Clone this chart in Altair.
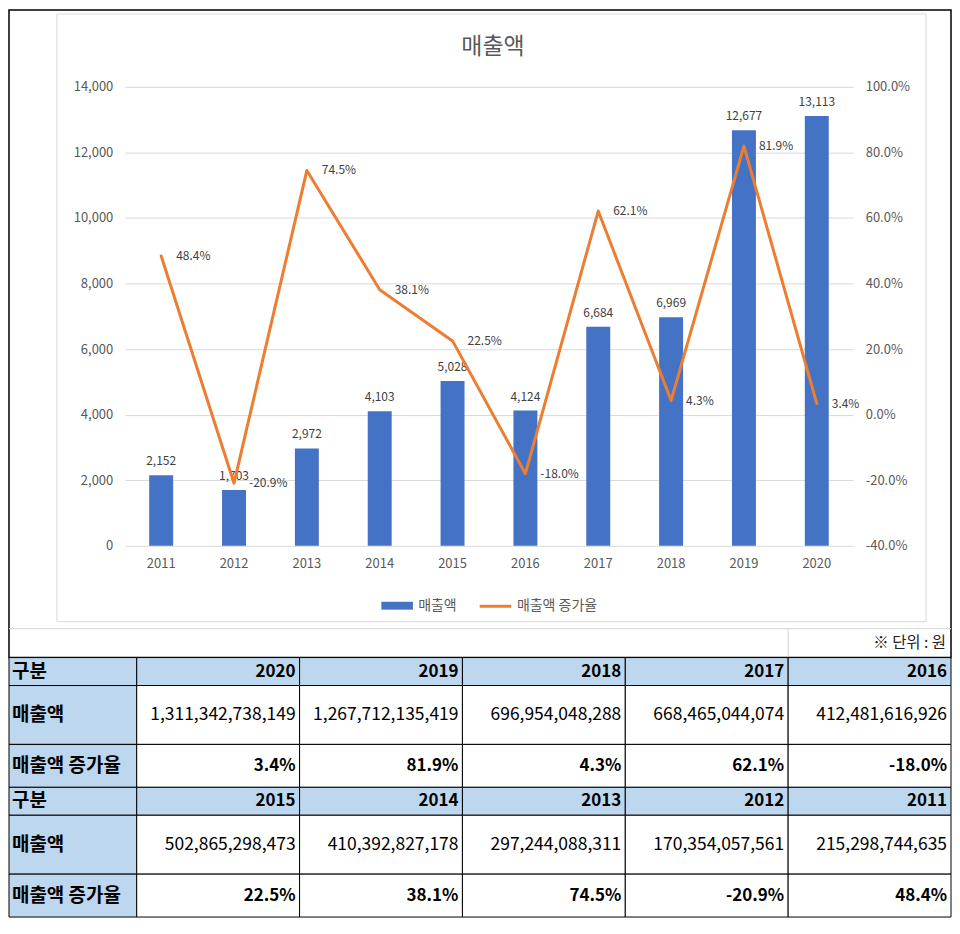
import altair as alt
import pandas as pd

FONT = "Noto Sans CJK KR"

# ---------------- data ----------------
years = [2011, 2012, 2013, 2014, 2015, 2016, 2017, 2018, 2019, 2020]
sales_won = [215298744635, 170354057561, 297244088311, 410392827178, 502865298473,
             412481616926, 668465044074, 696954048288, 1267712135419, 1311342738149]
growth = [0.484, -0.209, 0.745, 0.381, 0.225, -0.180, 0.621, 0.043, 0.819, 0.034]
left_ticks = [0, 2000, 4000, 6000, 8000, 10000, 12000, 14000]
right_ticks = [-0.4, -0.2, 0.0, 0.2, 0.4, 0.6, 0.8, 1.0]

title_text = "매출액"
bar_name = "매출액"
line_name = "매출액 증가율"
row_labels = ["구분", "매출액", "매출액 증가율"]
unit_text = "※ 단위 : 원"

# ---------------- layout (pixels, relative to plot origin) ----------------
PW, PH = 730, 460
col_w = [128] + [163.2] * 5
row_h = [28, 59, 43, 28, 59, 43]
TX0, TY0 = -116, 572  # table top-left relative to plot origin

def pct(v):
    return f"{v * 100:.1f}%"

df = pd.DataFrame({
    "year": [str(y) for y in years],
    "sales": [s // 10**8 for s in sales_won],
    "growth": growth,
})
df["sales_lbl"] = [f"{v:,}" for v in df["sales"]]
df["growth_lbl"] = [pct(v) for v in growth]
df["bar_series"] = bar_name
df["line_series"] = line_name

one = pd.DataFrame({"a": [1]})

band = alt.Scale(paddingInner=0, paddingOuter=0)
x_axis = alt.X("year:O", scale=band,
               axis=alt.Axis(title=None, labelAngle=0, domain=False, ticks=False,
                             labelPadding=12, labelFontSize=13, labelColor="#595959",
                             labelFont=FONT))
x_plain = alt.X("year:O", scale=band, axis=None)

bar_scale = alt.Scale(domain=[0, 14000], nice=False)
line_scale = alt.Scale(domain=[-0.4, 1.0], nice=False, zero=False)

y_bar = alt.Y("sales:Q", scale=bar_scale,
              axis=alt.Axis(values=left_ticks, title=None, domain=False,
                            ticks=False, labelPadding=12, grid=True, gridColor="#D9D9D9",
                            labelFontSize=13, labelColor="#595959", labelFont=FONT,
                            labelFlush=False, labelOverlap=False,
                            labelExpr="format(datum.value, ',')"))

bars = alt.Chart(df).mark_bar(size=24).encode(
    x=x_axis,
    y=y_bar,
    color=alt.Color("bar_series:N", scale=alt.Scale(domain=[bar_name], range=["#4472C4"]),
                    legend=alt.Legend(title=None, orient="none", legendX=256, legendY=503,
                                      direction="horizontal",
                                      symbolType="M-1,-0.25H1V0.25H-1Z", symbolSize=1000,
                                      labelFont=FONT, labelFontSize=14, labelColor="#595959",
                                      labelOffset=4)),
)
bar_text = alt.Chart(df).mark_text(baseline="bottom", dy=-7, fontSize=12, color="#404040",
                                   font=FONT).encode(
    x=x_plain,
    y=alt.Y("sales:Q", scale=bar_scale, axis=None),
    text="sales_lbl:N")

y_line = alt.Y("growth:Q", scale=line_scale,
               axis=alt.Axis(orient="right", values=right_ticks, title=None, domain=False,
                             ticks=False, grid=False, labelPadding=12, labelFontSize=13,
                             labelColor="#595959", labelFont=FONT, labelFlush=False,
                             labelOverlap=False,
                             labelExpr="replace(format(datum.value, '.1%'), '\u2212', '-')"))

line = alt.Chart(df).mark_line(strokeWidth=3, strokeJoin="round", strokeCap="round").encode(
    x=x_plain,
    y=y_line,
    stroke=alt.Stroke("line_series:N", scale=alt.Scale(domain=[line_name], range=["#ED7D31"]),
                      legend=alt.Legend(title=None, orient="none", legendX=354, legendY=503,
                                        direction="horizontal",
                                        symbolType="stroke", symbolSize=1000,
                                        symbolStrokeWidth=3,
                                        labelFont=FONT, labelFontSize=14,
                                        labelColor="#595959", labelOffset=4)),
)
line_text = alt.Chart(df).mark_text(align="left", baseline="middle", dx=15, fontSize=12,
                                    color="#404040", font=FONT).encode(
    x=x_plain,
    y=alt.Y("growth:Q", scale=line_scale, axis=None),
    text="growth_lbl:N")

# decorative frame elements
outer = alt.Chart(one).mark_rect(fillOpacity=0, stroke="#000000", strokeWidth=1.5).encode(
    x=alt.value(-116), x2=alt.value(828), y=alt.value(-77), y2=alt.value(TY0))
frame = alt.Chart(one).mark_rect(fillOpacity=0, stroke="#D9D9D9", strokeWidth=1).encode(
    x=alt.value(-68), x2=alt.value(803), y=alt.value(-73), y2=alt.value(536))
hline = alt.Chart(one).mark_rule(color="#D4D4D4", strokeWidth=1).encode(
    x=alt.value(-116), x2=alt.value(828), y=alt.value(543))
vline = alt.Chart(one).mark_rule(color="#D4D4D4", strokeWidth=1).encode(
    x=alt.value(664.8), y=alt.value(543), y2=alt.value(TY0))
unit = alt.Chart(one).mark_text(align="right", baseline="middle", fontSize=15.5, font=FONT,
                                color="#222222").encode(
    x=alt.value(823), y=alt.value(557), text=alt.value(unit_text))
title = alt.Chart(one).mark_text(align="center", baseline="middle", fontSize=23, font=FONT,
                                 color="#595959").encode(
    x=alt.value(PW / 2 + 4), y=alt.value(-40), text=alt.value(title_text))

# ---------------- table ----------------
blocks = [years[::-1][:5], years[::-1][5:]]
ymap = {y: i for i, y in enumerate(years)}
cells = []
xs = [sum(col_w[:i]) for i in range(len(col_w) + 1)]
ys = [sum(row_h[:i]) for i in range(len(row_h) + 1)]
for b, blk in enumerate(blocks):
    for r in range(3):
        ri = b * 3 + r
        for c in range(6):
            if c == 0:
                txt, kind = row_labels[r], "label"
            else:
                yr = blk[c - 1]
                i = ymap[yr]
                if r == 0:
                    txt, kind = str(yr), "bold"
                elif r == 1:
                    txt, kind = f"{sales_won[i]:,}", "num"
                else:
                    txt, kind = pct(growth[i]), "bold"
            cells.append({
                "x0": xs[c], "x1": xs[c + 1], "y0": ys[ri], "y1": ys[ri + 1],
                "yc": (ys[ri] + ys[ri + 1]) / 2, "text": txt, "kind": kind,
                "blue": 1 if (c == 0 or r == 0) else 0,
            })
tdf = pd.DataFrame(cells)
TW, TH = xs[-1], ys[-1]
xs_scale = alt.Scale(domain=[0, TW], range=[TX0, TX0 + TW], nice=False, zero=False)
ys_scale = alt.Scale(domain=[0, TH], range=[TY0, TY0 + TH], nice=False, zero=False)

tbase = alt.Chart(tdf)
rects = tbase.mark_rect(stroke="#000000", strokeWidth=1).encode(
    x=alt.X("x0:Q", scale=xs_scale, axis=None), x2="x1:Q",
    y=alt.Y("y0:Q", scale=ys_scale, axis=None), y2="y1:Q",
    fill=alt.condition("datum.blue == 1", alt.value("#BDD7EE"), alt.value("#FFFFFF")),
)
t_label = tbase.transform_filter("datum.kind == 'label'").mark_text(
    align="left", baseline="middle", dx=3, fontSize=19, fontWeight="bold", font=FONT,
    color="#000000").encode(
    x=alt.X("x0:Q", scale=xs_scale, axis=None),
    y=alt.Y("yc:Q", scale=ys_scale, axis=None), text="text:N")
t_bold = tbase.transform_filter("datum.kind == 'bold'").mark_text(
    align="right", baseline="middle", dx=-4, fontSize=17, fontWeight="bold", font=FONT,
    color="#000000").encode(
    x=alt.X("x1:Q", scale=xs_scale, axis=None),
    y=alt.Y("yc:Q", scale=ys_scale, axis=None), text="text:N")
t_num = tbase.transform_filter("datum.kind == 'num'").mark_text(
    align="right", baseline="middle", dx=-4, fontSize=17.5, font=FONT,
    color="#000000").encode(
    x=alt.X("x1:Q", scale=xs_scale, axis=None),
    y=alt.Y("yc:Q", scale=ys_scale, axis=None), text="text:N")

chart = alt.layer(
    outer, frame, hline, vline, unit, title,
    bars, bar_text, line, line_text,
    rects, t_label, t_bold, t_num,
).resolve_scale(
    x="independent", y="independent"
).properties(
    width=PW, height=PH, padding=0, background="#FFFFFF"
).configure_view(stroke=None)

chart.save("out.html", embed_options={"renderer": "svg", "actions": False})
